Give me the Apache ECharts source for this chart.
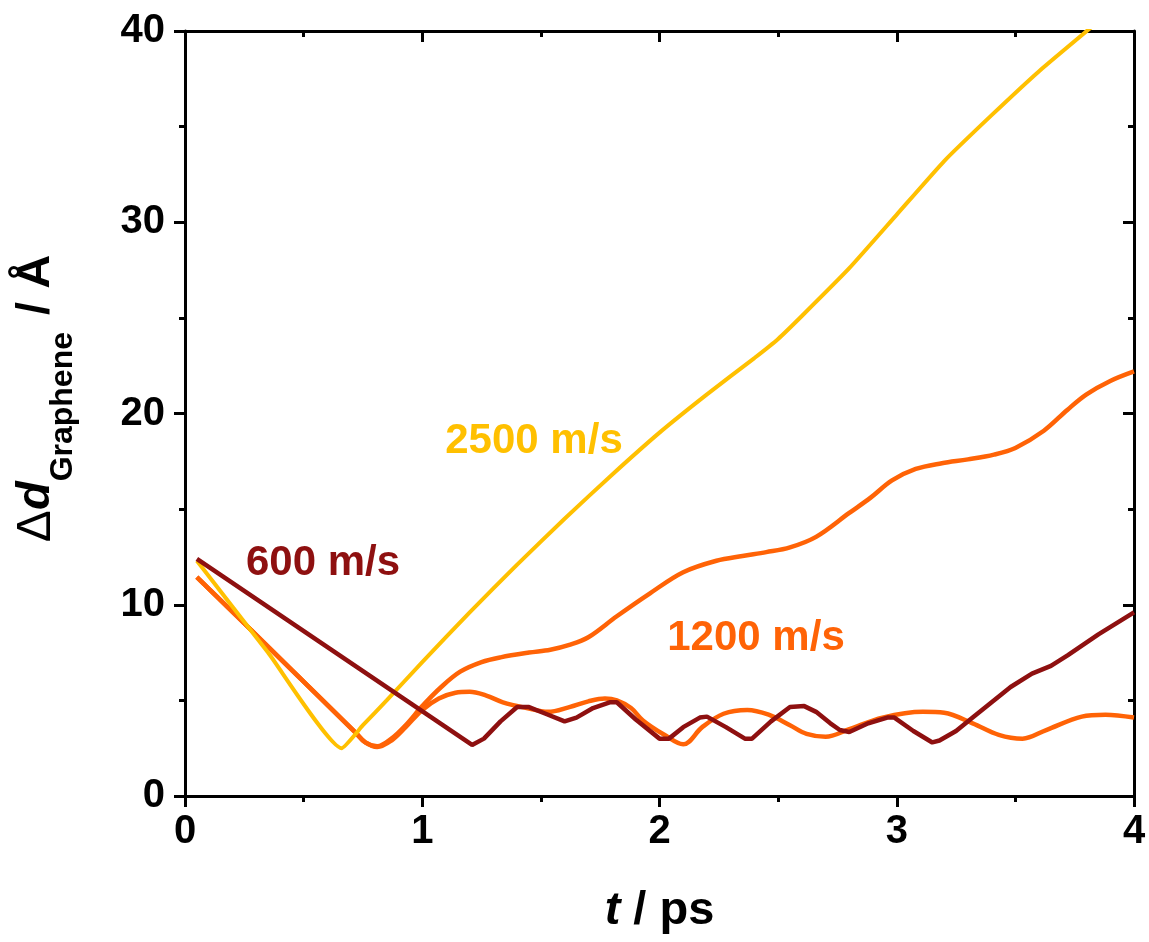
<!DOCTYPE html>
<html>
<head>
<meta charset="utf-8">
<script src="https://cdn.jsdelivr.net/npm/echarts/dist/echarts.min.js"></script>
<style>
html,body{margin:0;padding:0;background:#fff;}
#c{width:1149px;height:942px;}
</style>
</head>
<body>
<div id="c"></div>
<script>
// ---- data (t in ps, Δd in Å) ----
const t2500 = [0.05, 0.35, 0.66, 0.75, 0.85, 1.0, 1.2, 1.4, 1.6, 1.8, 2.0, 2.2, 2.4, 2.5, 2.6, 2.8, 3.0, 3.2, 3.4, 3.6, 3.83];
const v2500 = [12.3, 7.5, 2.5, 3.7, 5.0, 7.0, 9.6, 12.1, 14.5, 16.8, 19.0, 21.0, 22.9, 23.9, 25.1, 27.6, 30.4, 33.2, 35.6, 37.9, 40.3];

const t1200a = [0.05, 0.40, 0.72, 0.76, 0.81, 0.87, 0.93, 1.0, 1.08, 1.16, 1.25, 1.33, 1.45, 1.54, 1.62, 1.70, 1.82, 1.96, 2.10, 2.24, 2.35, 2.45, 2.55, 2.66, 2.80, 2.89, 2.98, 3.08, 3.19, 3.30, 3.41, 3.50, 3.62, 3.72, 3.80, 3.90, 4.0];
const v1200a = [11.45, 7.2, 3.3, 2.8, 2.6, 3.0, 3.7, 4.7, 5.7, 6.5, 7.0, 7.25, 7.5, 7.65, 7.9, 8.3, 9.4, 10.6, 11.7, 12.3, 12.55, 12.75, 13.0, 13.55, 14.8, 15.6, 16.5, 17.1, 17.4, 17.6, 17.85, 18.2, 19.1, 20.2, 21.0, 21.7, 22.2];

const t1200b = [0.05, 0.40, 0.72, 0.76, 0.81, 0.87, 0.93, 1.0, 1.07, 1.14, 1.20, 1.27, 1.34, 1.44, 1.53, 1.62, 1.70, 1.77, 1.82, 1.88, 1.93, 2.02, 2.10, 2.18, 2.27, 2.37, 2.46, 2.55, 2.62, 2.70, 2.80, 2.94, 3.11, 3.20, 3.32, 3.43, 3.53, 3.63, 3.78, 3.88, 4.0];
const v1200b = [11.45, 7.2, 3.3, 2.8, 2.56, 2.9, 3.6, 4.5, 5.1, 5.4, 5.45, 5.25, 4.9, 4.6, 4.4, 4.65, 4.95, 5.1, 5.0, 4.6, 3.95, 3.2, 2.7, 3.6, 4.3, 4.5, 4.25, 3.7, 3.25, 3.1, 3.5, 4.1, 4.4, 4.35, 3.8, 3.2, 3.0, 3.45, 4.15, 4.25, 4.1];

const t600 = [0.05, 1.21, 1.26, 1.33, 1.40, 1.45, 1.52, 1.60, 1.65, 1.72, 1.79, 1.82, 1.90, 2.00, 2.04, 2.10, 2.17, 2.20, 2.28, 2.36, 2.39, 2.47, 2.55, 2.61, 2.66, 2.72, 2.76, 2.80, 2.88, 2.96, 2.99, 3.07, 3.15, 3.18, 3.25, 3.32, 3.40, 3.48, 3.57, 3.65, 3.72, 3.85, 4.0];
const v600 = [12.4, 2.67, 3.0, 3.9, 4.65, 4.65, 4.3, 3.9, 4.1, 4.6, 4.9, 4.9, 4.0, 3.0, 3.0, 3.6, 4.1, 4.15, 3.6, 3.0, 3.0, 3.9, 4.65, 4.7, 4.4, 3.8, 3.45, 3.35, 3.8, 4.1, 4.1, 3.4, 2.8, 2.9, 3.4, 4.1, 4.9, 5.7, 6.4, 6.8, 7.35, 8.45, 9.6];

const xTicks = [0, 1, 2, 3, 4];
const yTicks = [0, 10, 20, 30, 40];
const labels = ['2500 m/s', '1200 m/s', '600 m/s'];

const zip = (a, b) => a.map((x, i) => [x, b[i]]);

const C_Y = '#FFC000', C_O = '#FF6306', C_R = '#8E1010';
const FF = '"Liberation Sans", Arial, sans-serif';

const axLine = { show: true, onZero: false, lineStyle: { color: '#000', width: 3 } };
function xAx(pos, inside, labelsOn) {
  return {
    type: 'value', position: pos, min: xTicks[0], max: xTicks[xTicks.length - 1], interval: 1,
    axisLine: axLine,
    axisTick: { show: true, inside: inside, length: 11, lineStyle: { color: '#000', width: 3 } },
    minorTick: { show: true, splitNumber: 2, length: 6, lineStyle: { color: '#000', width: 3 } },
    splitLine: { show: false }, minorSplitLine: { show: false },
    axisLabel: { show: labelsOn, fontSize: 40, fontWeight: 'bold', color: '#000', fontFamily: FF, margin: 16 },
    name: labelsOn ? '{i|t}{n| / ps}' : '',
    nameLocation: 'middle', nameGap: 92,
    nameTextStyle: { rich: {
      i: { fontSize: 47, fontWeight: 'bold', fontStyle: 'italic', fontFamily: FF, color: '#000' },
      n: { fontSize: 47, fontWeight: 'bold', fontFamily: FF, color: '#000' }
    } }
  };
}
function yAx(pos, inside, labelsOn) {
  return {
    type: 'value', position: pos, min: yTicks[0], max: yTicks[yTicks.length - 1], interval: 10,
    axisLine: axLine,
    axisTick: { show: true, inside: inside, length: 11, lineStyle: { color: '#000', width: 3 } },
    minorTick: { show: true, splitNumber: 2, length: 6, lineStyle: { color: '#000', width: 3 } },
    splitLine: { show: false }, minorSplitLine: { show: false },
    axisLabel: { show: labelsOn, fontSize: 40, fontWeight: 'bold', color: '#000', fontFamily: FF, margin: 20 },
    name: labelsOn ? '{D|Δ}{i|d}{s|Graphene}{b| / Å}' : '',
    nameLocation: 'middle', nameRotate: 90, nameGap: 122,
    nameTextStyle: { rich: {
      D: { fontSize: 48, fontWeight: 'normal', fontFamily: FF, color: '#000', lineHeight: 50, verticalAlign: 'top', padding: [0, 0, 0, 30] },
      b: { fontSize: 47, fontWeight: 'bold', fontFamily: FF, color: '#000', lineHeight: 50, verticalAlign: 'top' },
      i: { fontSize: 47, fontWeight: 'bold', fontStyle: 'italic', fontFamily: FF, color: '#000', lineHeight: 50, verticalAlign: 'top' },
      s: { fontSize: 32, fontWeight: 'bold', fontFamily: FF, color: '#000', lineHeight: 32, verticalAlign: 'top', padding: [34, 4, 0, 0] }
    } }
  };
}

function lineSeries(name, data, color, smooth, width) {
  return {
    name: name, type: 'line', data: data, showSymbol: false, smooth: smooth, clip: true,
    lineStyle: { color: color, width: width }, itemStyle: { color: color },
    xAxisIndex: 0, yAxisIndex: 0, z: 2
  };
}

const chart = echarts.init(document.getElementById('c'), null, { renderer: 'canvas' });
chart.setOption({
  backgroundColor: '#fff',
  animation: false,
  grid: { left: 185, right: 15, top: 31, bottom: 146, containLabel: false },
  xAxis: [xAx('bottom', false, true), xAx('top', true, false)],
  yAxis: [yAx('left', false, true), yAx('right', true, false)],
  series: [
    lineSeries('1200 m/s a', zip(t1200a, v1200a), C_O, 0.35, 4.5),
    lineSeries('1200 m/s b', zip(t1200b, v1200b), C_O, 0.35, 4.5),
    lineSeries(labels[0], zip(t2500, v2500), C_Y, 0.15, 4),
    lineSeries(labels[2], zip(t600, v600), C_R, false, 4.5)
  ],
  graphic: [
    { type: 'text', x: 534, y: 441, style: { text: labels[0], fill: C_Y, font: 'bold 42px ' + FF, textAlign: 'center', textVerticalAlign: 'middle' } },
    { type: 'text', x: 756, y: 638, style: { text: labels[1], fill: C_O, font: 'bold 42px ' + FF, textAlign: 'center', textVerticalAlign: 'middle' } },
    { type: 'text', x: 323, y: 563, style: { text: labels[2], fill: C_R, font: 'bold 42px ' + FF, textAlign: 'center', textVerticalAlign: 'middle' } }
  ]
});
</script>
</body>
</html>
